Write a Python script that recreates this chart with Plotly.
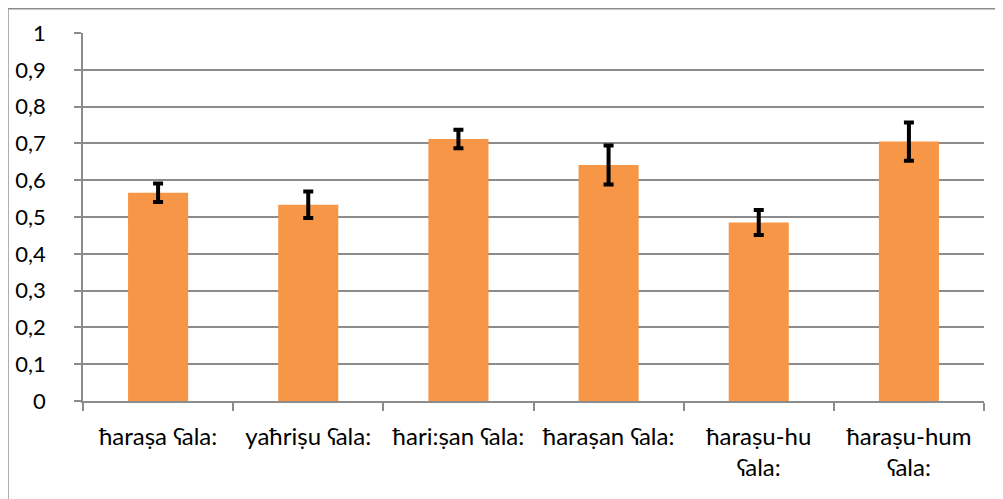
import plotly.graph_objects as go

categories = ["ħaraṣa ʕala:", "yaħriṣu ʕala:", "ħari:ṣan ʕala:", "ħaraṣan ʕala:",
              "ħaraṣu-hu<br>ʕala:", "ħaraṣu-hum<br>ʕala:"]
values = [0.566, 0.533, 0.712, 0.641, 0.485, 0.705]
errors = [0.025, 0.036, 0.025, 0.053, 0.034, 0.052]
y_ticks = [0, 0.1, 0.2, 0.3, 0.4, 0.5, 0.6, 0.7, 0.8, 0.9, 1]

FONT = "Lato, Noto Sans, DejaVu Sans, sans-serif"
GRID = "#8c8c8c"

fig = go.Figure(go.Bar(
    x=categories, y=values,
    marker=dict(color="#F79646", line=dict(width=0)),
    error_y=dict(type="data", array=errors, visible=True,
                 color="black", thickness=4, width=5),
))

fig.update_layout(
    width=1003, height=499,
    margin=dict(l=75, r=27, t=25, b=106),
    paper_bgcolor="white", plot_bgcolor="white",
    separators=", ",
    bargap=0.6,
    showlegend=False,
    font=dict(family=FONT, size=24, color="black"),
    shapes=[dict(type="rect", xref="paper", yref="paper",
                 x0=-0.0833, x1=1.1, y0=-0.5, y1=1.066,
                 line=dict(color="#8c8c8c", width=1.5), fillcolor="rgba(0,0,0,0)",
                 layer="below")],
)
fig.update_xaxes(
    automargin=False,
    showline=True, linecolor=GRID, linewidth=1.5,
    ticks="outside", tickson="boundaries", ticklen=8, tickcolor=GRID, tickwidth=1.5,
    showgrid=False, tickfont=dict(size=24, family=FONT),
    ticklabelstandoff=13,
)
fig.update_yaxes(
    automargin=False,
    range=[0, 1], tickvals=y_ticks,
    showline=True, linecolor=GRID, linewidth=1.5,
    ticks="outside", ticklen=7, tickcolor=GRID, tickwidth=1.5,
    showgrid=True, gridcolor=GRID, gridwidth=1.5,
    zeroline=False, ticklabelstandoff=24,
    tickfont=dict(size=22, family=FONT),
)

fig.write_html("out.html")
